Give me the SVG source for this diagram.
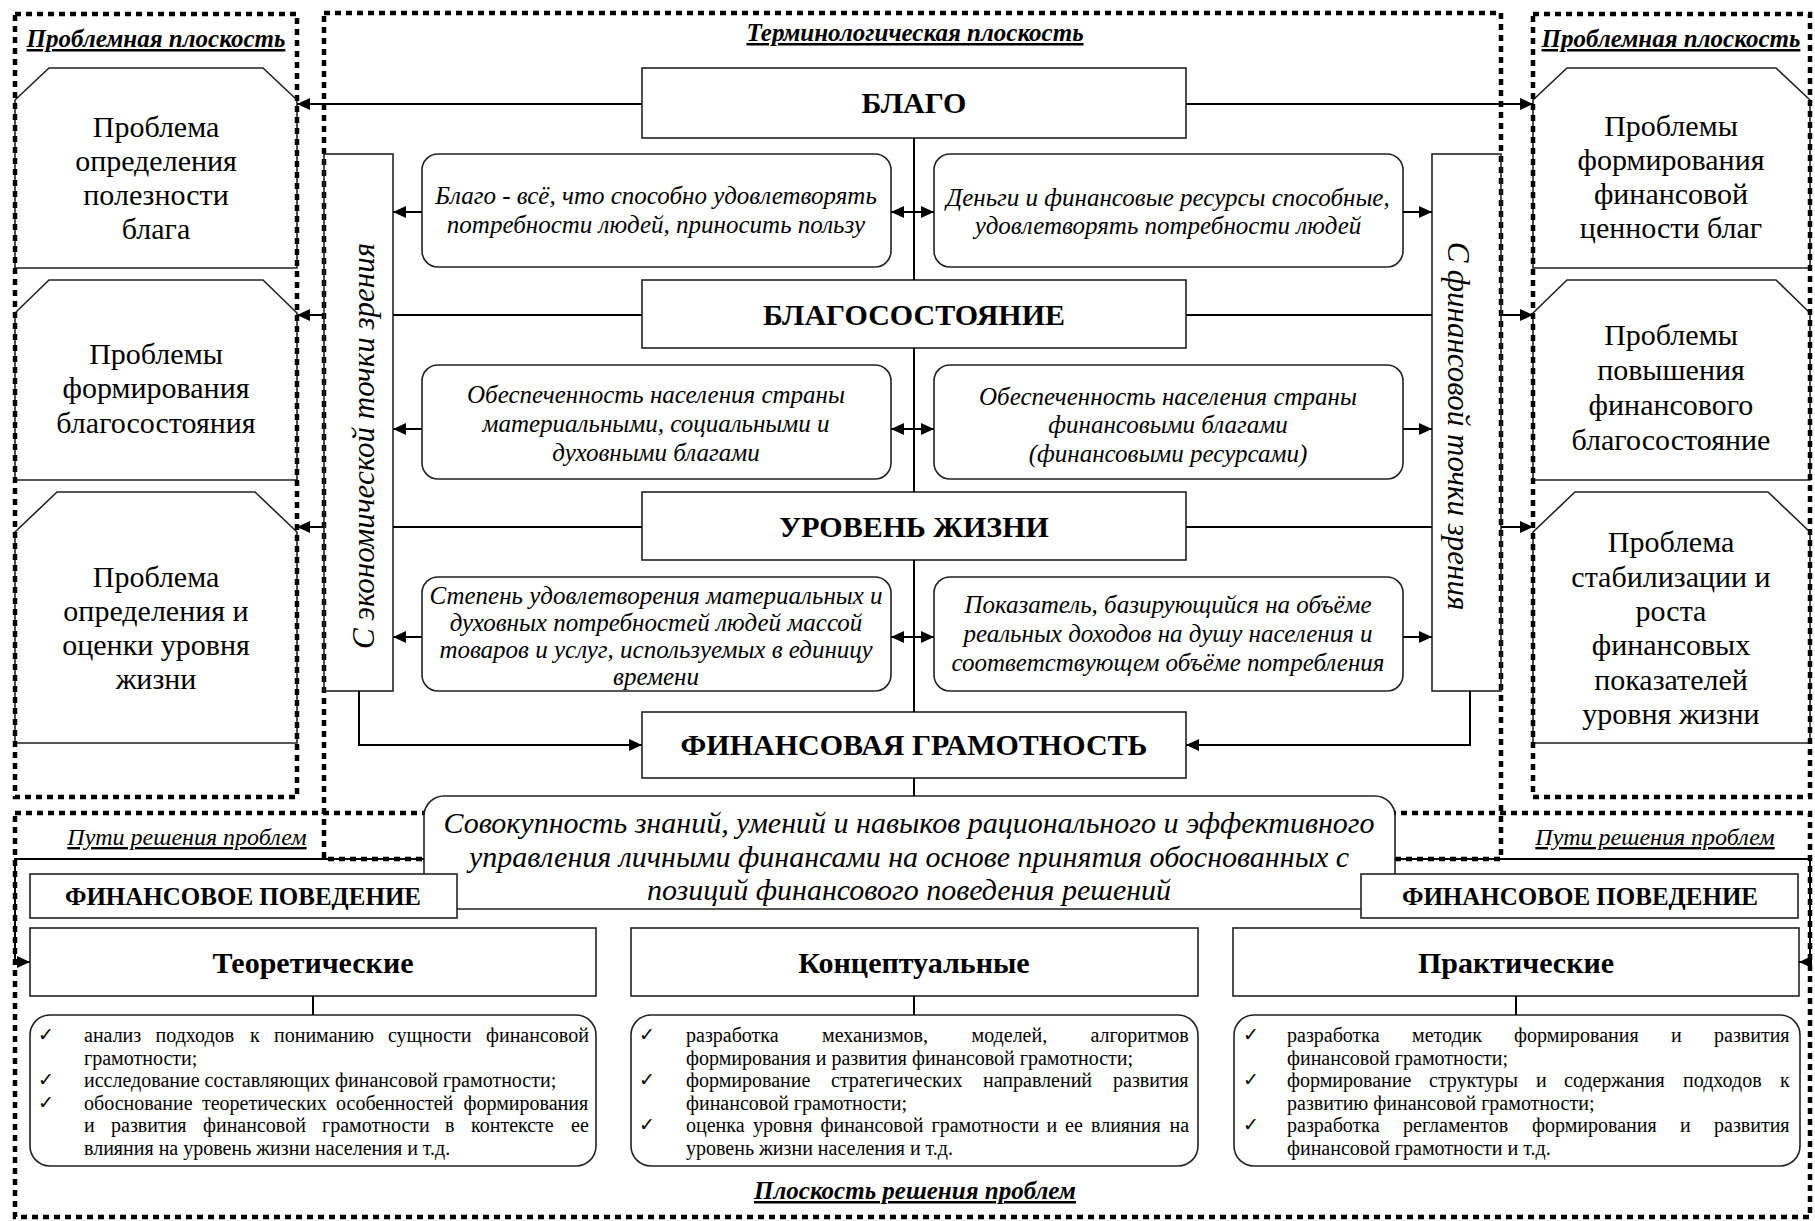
<svg xmlns="http://www.w3.org/2000/svg" width="1815" height="1221" viewBox="0 0 1815 1221">
<style>
.frame{fill:none;stroke:#000;stroke-width:4.5;stroke-dasharray:6 5}
.box{fill:#fff;stroke:#222;stroke-width:1.6}
.pbox{fill:none;stroke:#222;stroke-width:1.6}
.ln{fill:none;stroke:#000;stroke-width:2}
text{font-family:"Liberation Serif","Times New Roman",serif;fill:#000}
.hdr{font-size:30px;font-weight:bold;text-anchor:middle}
.prob{font-size:30px;text-anchor:middle}
.it{font-size:25px;font-style:italic;text-anchor:middle}
.big{font-size:30px;font-style:italic;text-anchor:middle}
.title{font-size:25px;font-weight:bold;font-style:italic;text-decoration:underline;text-anchor:middle}
.way{font-size:24px;font-style:italic;text-decoration:underline;text-anchor:middle}
.vert{font-size:31px;font-style:italic;text-anchor:middle}
.cat{font-size:30px;font-weight:bold;text-anchor:middle}
.fp{font-size:25px;font-weight:bold;text-anchor:middle}
.li{font-size:20px}
.chk{font-family:"DejaVu Sans",sans-serif;font-size:19px}
</style>
<defs>
<marker id="ah" viewBox="0 0 13 12" refX="13" refY="6" markerWidth="13" markerHeight="12" markerUnits="userSpaceOnUse" orient="auto-start-reverse"><path d="M0,0 L13,6 L0,12 z" fill="#000"/></marker>
</defs>

<!-- problem nodes (left) -->
<g id="prob-left-1"><path class="pbox" d="M15,100 L49,68 L263,68 L297,100 L297,268 L15,268 Z"/>
<text class="prob" x="156" y="137">Проблема</text><text class="prob" x="156" y="171">определения</text><text class="prob" x="156" y="205">полезности</text><text class="prob" x="156" y="239">блага</text></g>
<g id="prob-left-2"><path class="pbox" d="M15,313 L49,280 L263,280 L297,313 L297,480 L15,480 Z"/>
<text class="prob" x="156" y="364">Проблемы</text><text class="prob" x="156" y="398">формирования</text><text class="prob" x="156" y="433">благосостояния</text></g>
<g id="prob-left-3"><path class="pbox" d="M15,532 L57,492 L255,492 L297,532 L297,743 L15,743 Z"/>
<text class="prob" x="156" y="587">Проблема</text><text class="prob" x="156" y="621">определения и</text><text class="prob" x="156" y="655">оценки уровня</text><text class="prob" x="156" y="689">жизни</text></g>

<!-- problem nodes (right) -->
<g id="prob-right-1"><path class="pbox" d="M1533,100 L1567,68 L1776,68 L1810,100 L1810,268 L1533,268 Z"/>
<text class="prob" x="1671" y="136">Проблемы</text><text class="prob" x="1671" y="170">формирования</text><text class="prob" x="1671" y="204">финансовой</text><text class="prob" x="1671" y="238">ценности благ</text></g>
<g id="prob-right-2"><path class="pbox" d="M1533,313 L1567,280 L1776,280 L1810,313 L1810,480 L1533,480 Z"/>
<text class="prob" x="1671" y="345">Проблемы</text><text class="prob" x="1671" y="380">повышения</text><text class="prob" x="1671" y="415">финансового</text><text class="prob" x="1671" y="450">благосостояние</text></g>
<g id="prob-right-3"><path class="pbox" d="M1533,532 L1575,492 L1768,492 L1810,532 L1810,743 L1533,743 Z"/>
<text class="prob" x="1671" y="552">Проблема</text><text class="prob" x="1671" y="587">стабилизации и</text><text class="prob" x="1671" y="621">роста</text><text class="prob" x="1671" y="655">финансовых</text><text class="prob" x="1671" y="690">показателей</text><text class="prob" x="1671" y="724">уровня жизни</text></g>

<!-- dotted planes -->
<g id="planes">
<rect class="frame" x="15" y="14" width="282" height="783"/>
<rect class="frame" x="324" y="13" width="1177" height="846"/>
<rect class="frame" x="1533" y="14" width="277" height="783"/>
<rect class="frame" x="15" y="813" width="1795" height="404"/>
<text class="title" x="156" y="47">Проблемная плоскость</text>
<text class="title" x="915" y="41">Терминологическая плоскость</text>
<text class="title" x="1671" y="47">Проблемная плоскость</text>
<text class="title" x="915" y="1199">Плоскость решения проблем</text>
<text class="way" x="187" y="845">Пути решения проблем</text>
<text class="way" x="1655" y="845">Пути решения проблем</text>
</g>

<!-- terms -->
<g id="blago"><rect class="box" x="642" y="68" width="544" height="70"/><text class="hdr" x="914" y="113">БЛАГО</text></g>
<g id="blagosostoyanie"><rect class="box" x="642" y="280" width="544" height="68"/><text class="hdr" x="914" y="325">БЛАГОСОСТОЯНИЕ</text></g>
<g id="uroven"><rect class="box" x="642" y="492" width="544" height="68"/><text class="hdr" x="914" y="537">УРОВЕНЬ ЖИЗНИ</text></g>
<g id="fingram"><rect class="box" x="642" y="712" width="544" height="66"/><text class="hdr" x="914" y="755">ФИНАНСОВАЯ ГРАМОТНОСТЬ</text></g>

<g id="econ-view"><rect class="pbox" x="324" y="154" width="69" height="537"/><text class="vert" x="374" y="446" transform="rotate(-90 374 446)">С экономической точки зрения</text></g>
<g id="fin-view"><rect class="pbox" x="1432" y="154" width="69" height="537"/><text class="vert" x="1448" y="426" transform="rotate(90 1448 426)">С финансовой точки зрения</text></g>

<g id="def-blago-econ"><rect class="box" x="422" y="154" width="469" height="113" rx="16"/>
<text class="it" x="656" y="204">Благо - всё, что способно удовлетворять</text><text class="it" x="656" y="233">потребности людей, приносить пользу</text></g>
<g id="def-blago-fin"><rect class="box" x="934" y="154" width="469" height="113" rx="16"/>
<text class="it" x="1168" y="206">Деньги и финансовые ресурсы способные,</text><text class="it" x="1168" y="234">удовлетворять потребности людей</text></g>
<g id="def-bs-econ"><rect class="box" x="422" y="365" width="469" height="114" rx="16"/>
<text class="it" x="656" y="403">Обеспеченность населения страны</text><text class="it" x="656" y="432">материальными, социальными и</text><text class="it" x="656" y="461">духовными благами</text></g>
<g id="def-bs-fin"><rect class="box" x="934" y="365" width="469" height="114" rx="16"/>
<text class="it" x="1168" y="405">Обеспеченность населения страны</text><text class="it" x="1168" y="433">финансовыми благами</text><text class="it" x="1168" y="462">(финансовыми ресурсами)</text></g>
<g id="def-uz-econ"><rect class="box" x="422" y="577" width="469" height="114" rx="16"/>
<text class="it" x="656" y="604">Степень удовлетворения материальных и</text><text class="it" x="656" y="631">духовных потребностей людей массой</text><text class="it" x="656" y="658">товаров и услуг, используемых в единицу</text><text class="it" x="656" y="685">времени</text></g>
<g id="def-uz-fin"><rect class="box" x="934" y="577" width="469" height="114" rx="16"/>
<text class="it" x="1168" y="613">Показатель, базирующийся на объёме</text><text class="it" x="1168" y="642">реальных доходов на душу населения и</text><text class="it" x="1168" y="671">соответствующем объёме потребления</text></g>

<g id="def-fingram"><rect class="box" x="424" y="796" width="971" height="113" rx="20"/>
<text class="big" x="909" y="833">Совокупность знаний, умений и навыков рационального и эффективного</text>
<text class="big" x="909" y="867">управления личными финансами на основе принятия обоснованных с</text>
<text class="big" x="909" y="900">позиций финансового поведения решений</text></g>

<g id="fin-behavior-left"><rect class="box" x="30" y="874" width="427" height="44"/><text class="fp" x="243" y="905">ФИНАНСОВОЕ ПОВЕДЕНИЕ</text></g>
<g id="fin-behavior-right"><rect class="box" x="1361" y="874" width="437" height="44"/><text class="fp" x="1580" y="905">ФИНАНСОВОЕ ПОВЕДЕНИЕ</text></g>

<g id="theory"><rect class="box" x="30" y="928" width="566" height="68"/><text class="cat" x="313" y="973">Теоретические</text></g>
<g id="concept"><rect class="box" x="631" y="928" width="567" height="68"/><text class="cat" x="914" y="973">Концептуальные</text></g>
<g id="practice"><rect class="box" x="1233" y="928" width="566" height="68"/><text class="cat" x="1516" y="973">Практические</text></g>

<g id="theory-list"><rect class="box" x="30" y="1015" width="566" height="151" rx="20"/>
<text class="chk" x="38" y="1041">✓</text><text class="chk" x="38" y="1086">✓</text><text class="chk" x="38" y="1109">✓</text>
<text class="li" y="1042"><tspan x="84">анализ</tspan><tspan x="155.5">подходов</tspan><tspan x="250">к</tspan><tspan x="274">пониманию</tspan><tspan x="388">сущности</tspan><tspan x="486">финансовой</tspan></text>
<text class="li" x="84" y="1065">грамотности;</text>
<text class="li" x="84" y="1087">исследование составляющих финансовой грамотности;</text>
<text class="li" y="1110"><tspan x="84">обоснование</tspan><tspan x="202">теоретических</tspan><tspan x="336">особенностей</tspan><tspan x="463.5">формирования</tspan></text>
<text class="li" y="1132"><tspan x="84">и</tspan><tspan x="111">развития</tspan><tspan x="203">финансовой</tspan><tspan x="322">грамотности</tspan><tspan x="445">в</tspan><tspan x="471">контексте</tspan><tspan x="571">ее</tspan></text>
<text class="li" x="84" y="1155">влияния на уровень жизни населения и т.д.</text></g>

<g id="concept-list"><rect class="box" x="631" y="1015" width="567" height="151" rx="20"/>
<text class="chk" x="639" y="1041">✓</text><text class="chk" x="639" y="1086">✓</text><text class="chk" x="639" y="1131">✓</text>
<text class="li" y="1042"><tspan x="686">разработка</tspan><tspan x="822">механизмов,</tspan><tspan x="971.5">моделей,</tspan><tspan x="1090.5">алгоритмов</tspan></text>
<text class="li" x="686" y="1065">формирования и развития финансовой грамотности;</text>
<text class="li" y="1087"><tspan x="686">формирование</tspan><tspan x="831">стратегических</tspan><tspan x="983">направлений</tspan><tspan x="1113">развития</tspan></text>
<text class="li" x="686" y="1110">финансовой грамотности;</text>
<text class="li" y="1132"><tspan x="686">оценка</tspan><tspan x="753">уровня</tspan><tspan x="820.5">финансовой</tspan><tspan x="931.5">грамотности</tspan><tspan x="1046.5">и</tspan><tspan x="1065">ее</tspan><tspan x="1091">влияния</tspan><tspan x="1169.5">на</tspan></text>
<text class="li" x="686" y="1155">уровень жизни населения и т.д.</text></g>

<g id="practice-list"><rect class="box" x="1234" y="1015" width="566" height="151" rx="20"/>
<text class="chk" x="1243" y="1041">✓</text><text class="chk" x="1243" y="1086">✓</text><text class="chk" x="1243" y="1131">✓</text>
<text class="li" y="1042"><tspan x="1287">разработка</tspan><tspan x="1412">методик</tspan><tspan x="1514">формирования</tspan><tspan x="1671">и</tspan><tspan x="1714">развития</tspan></text>
<text class="li" x="1287" y="1065">финансовой грамотности;</text>
<text class="li" y="1087"><tspan x="1287">формирование</tspan><tspan x="1429">структуры</tspan><tspan x="1536">и</tspan><tspan x="1564">содержания</tspan><tspan x="1683">подходов</tspan><tspan x="1780">к</tspan></text>
<text class="li" x="1287" y="1110">развитию финансовой грамотности;</text>
<text class="li" y="1132"><tspan x="1287">разработка</tspan><tspan x="1403">регламентов</tspan><tspan x="1532">формирования</tspan><tspan x="1680">и</tspan><tspan x="1714">развития</tspan></text>
<text class="li" x="1287" y="1155">финансовой грамотности и т.д.</text></g>

<!-- connectors -->
<g id="connectors" class="ln">
<path d="M914,138 V280 M914,348 V492 M914,560 V712 M914,778 V796"/>
<path d="M642,104 H297" marker-end="url(#ah)"/>
<path d="M1186,104 H1533" marker-end="url(#ah)"/>
<path d="M642,315 H393 M1186,315 H1432 M642,527 H393 M1186,527 H1432"/>
<path d="M324,315 H297" marker-end="url(#ah)"/>
<path d="M1501,315 H1533" marker-end="url(#ah)"/>
<path d="M324,527 H297" marker-end="url(#ah)"/>
<path d="M1501,527 H1533" marker-end="url(#ah)"/>
<path d="M422,212 H393" marker-end="url(#ah)"/>
<path d="M422,429 H393" marker-end="url(#ah)"/>
<path d="M422,637 H393" marker-end="url(#ah)"/>
<path d="M1403,212 H1432" marker-end="url(#ah)"/>
<path d="M1403,429 H1432" marker-end="url(#ah)"/>
<path d="M1403,637 H1432" marker-end="url(#ah)"/>
<path d="M891,212 H934" marker-start="url(#ah)" marker-end="url(#ah)"/>
<path d="M891,429 H934" marker-start="url(#ah)" marker-end="url(#ah)"/>
<path d="M891,637 H934" marker-start="url(#ah)" marker-end="url(#ah)"/>
<path d="M359,691 V745 H642" marker-end="url(#ah)"/>
<path d="M1470,691 V745 H1186" marker-end="url(#ah)"/>
<path d="M424,859 H15 V962 H30" marker-end="url(#ah)"/>
<path d="M1395,859 H1810 V962 H1799" marker-end="url(#ah)"/>
<path d="M313,996 V1015 M914,996 V1015 M1516,996 V1015"/>
</g>
</svg>
